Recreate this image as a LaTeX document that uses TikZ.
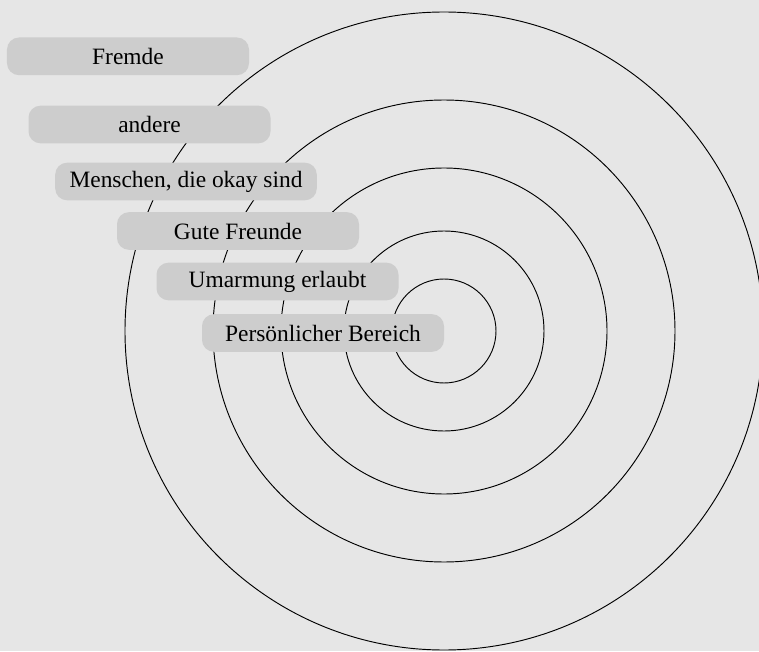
\documentclass[tikz,border=0pt]{standalone}
\usepackage{fontspec}
\setmainfont{Liberation Serif}
\usepackage{xcolor}
\usepackage{tikz}
\definecolor{bgcol}{RGB}{230,230,230}
\definecolor{zonecol}{RGB}{205,205,205}

\begin{document}
\begin{tikzpicture}[
    zone/.style={fill=zonecol, rounded corners=0.36cm, minimum width=7.26cm,
      minimum height=1.13cm, inner xsep=0.43cm, inner ysep=0pt,
      font=\fontsize{20}{24}\selectfont},
    ring/.style={line width=0.8pt}]
  % canvas
  \def\W{22.77}
  \def\H{19.53}
  \useasboundingbox (0,0) rectangle (\W,\H);
  \fill[bgcol] (0,0) rectangle (\W,\H);
  \clip (0,0) rectangle (\W,\H);

  % rings around the centre
  \def\cx{13.32}
  \def\cy{9.6}
  \draw[ring] (\cx,\cy) circle (1.56);
  \draw[ring] (\cx,\cy) circle (3.0);
  \draw[ring] (\cx,\cy) circle (4.89);
  \draw[ring] (\cx,\cy) circle (6.93);
  \draw[ring] (\cx,\cy) circle (9.57);

  % labels, outermost first
  \node[zone] (fremde) at (3.84, 17.84) {Fremde};
  \node[zone] (andere) at (4.485, 15.795) {andere};
  \node[zone] (okay) at (5.58, 14.085) {Menschen, die okay sind};
  \node[zone] (freunde) at (7.14, 12.6) {Gute Freunde};
  \node[zone] (umarmung) at (8.325, 11.085) {Umarmung erlaubt};
  \node[zone] (bereich) at (9.69, 9.54) {Persönlicher Bereich};
\end{tikzpicture}
\end{document}
